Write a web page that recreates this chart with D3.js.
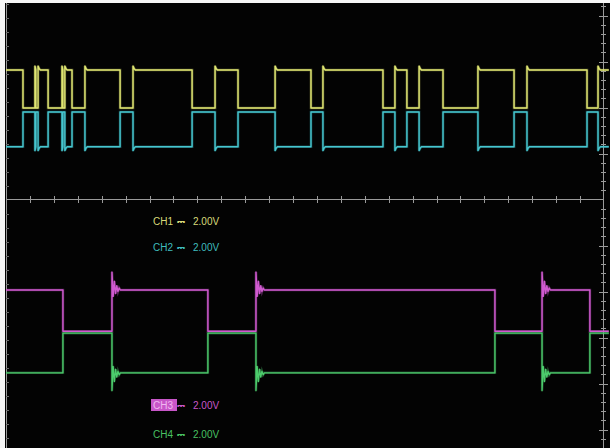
<!DOCTYPE html>
<html>
<head>
<meta charset="utf-8">
<script src="https://cdn.jsdelivr.net/npm/d3@7"></script>
<style>
  html, body { margin: 0; padding: 0; background: #f6f6f6; }
  svg { display: block; }
  text { font-family: "Liberation Sans", Arial, sans-serif; font-size: 10px; }
</style>
</head>
<body>
<svg id="scope" width="610" height="448"></svg>
<script>
// ---- Acquisition data (time in horizontal minor divisions, levels in volts) ----

// Intervals where the upper bus pair (CH1 / CH2) is driven dominant
const ch12Dominant = [
  [0, 0.71], [1.21, 1.25], [1.34, 1.76], [2.34, 2.38], [2.46, 2.76],
  [3.30, 4.77], [5.31, 7.78], [8.74, 9.70], [11.25, 12.75], [13.25, 15.76],
  [16.26, 16.76], [17.27, 18.27], [19.73, 21.24], [21.78, 24.29], [24.75, 25.2]
];
// Intervals where the lower pair (CH3 / CH4) is driven dominant
const ch34Dominant = [
  [0, 2.38], [4.43, 8.44], [10.45, 20.44], [22.41, 24.41]
];

// [recessive, dominant] levels per channel
const ch1Levels = [2.55, 3.50];
const ch2Levels = [2.45, 1.58];
const ch3Levels = [2.47, 3.50];
const ch4Levels = [2.42, 1.43];

// Overshoot / ringing after a recessive-to-dominant edge (volts away from the settled level)
const ringUpper = [0.1, 0.03, 0];
const ringLower = [0.45, -0.16, 0.22, -0.09, 0.11, -0.04, 0.05, 0];
const ringStep = 0.05;

const timeEnd = 25.2;

// Channel readouts
const channelNames = ["CH1", "CH2", "CH3", "CH4"];
const channelScales = ["2.00V", "2.00V", "2.00V", "2.00V"];

// ---- Drawing ----
const W = 610, H = 448;
const svg = d3.select("#scope");

const x = d3.scaleLinear().domain([0, 25]).range([6, 604]);
const yUpper = d3.scaleLinear().domain([0, 5]).range([210, 10]);
const yLower = d3.scaleLinear().domain([0, 5]).range([430, 230]);
const gridRow = d3.scaleLinear().domain([0, 1]).range([199.5, 190.3]);

// screen
svg.append("rect").attr("x", 5).attr("y", 3).attr("width", W - 5).attr("height", H - 3)
  .attr("fill", "#030303");

const defs = svg.append("defs");
defs.append("clipPath").attr("id", "screen")
  .append("rect").attr("x", 6).attr("y", 3).attr("width", W - 6).attr("height", H - 3);
const glow = defs.append("filter").attr("id", "glow")
  .attr("x", "-5%").attr("y", "-5%").attr("width", "110%").attr("height", "110%");
glow.append("feGaussianBlur").attr("stdDeviation", 0.45);

// graticule
const grid = svg.append("g").attr("stroke", "#9a9a9a").attr("stroke-width", 1);
grid.append("line").attr("x1", 6.5).attr("x2", 6.5).attr("y1", 3).attr("y2", H);
grid.append("line").attr("x1", 603.5).attr("x2", 603.5).attr("y1", 3).attr("y2", H);
grid.append("line").attr("x1", 6).attr("x2", 604).attr("y1", 199.5).attr("y2", 199.5);

// ticks along the centre line
grid.selectAll(".hx").data(d3.range(1, 25)).join("line")
  .attr("x1", d => Math.round(x(d)) + 0.5).attr("x2", d => Math.round(x(d)) + 0.5)
  .attr("y1", 196).attr("y2", 203);

// ticks along the right edge
grid.selectAll(".vy").data(d3.range(-27, 22).filter(d => d !== 0)).join("line")
  .attr("y1", d => Math.round(gridRow(d)) + 0.5).attr("y2", d => Math.round(gridRow(d)) + 0.5)
  .attr("x1", d => d % 5 === 0 ? 599 : 601).attr("x2", d => d % 5 === 0 ? 608 : 606);

// ticks along the left edge
grid.selectAll(".ly").data(d3.range(-14, 18).filter(d => d !== 0)).join("line")
  .attr("stroke", "#6a6a6a")
  .attr("y1", d => Math.round(199.5 + d * 14) + 0.5).attr("y2", d => Math.round(199.5 + d * 14) + 0.5)
  .attr("x1", 6).attr("x2", 9);

// build a trace from dominant intervals
function tracePoints(intervals, levels, ring) {
  const [rec, dom] = levels;
  const dir = Math.sign(dom - rec);
  const pts = [];
  if (intervals[0][0] > 0) pts.push([0, rec]);
  intervals.forEach(([a, b]) => {
    const end = Math.min(b, timeEnd);
    if (a > 0) {
      pts.push([a, rec]);
      ring.filter((r, i) => a + i * ringStep < end)
        .forEach((r, i) => pts.push([a + i * ringStep, dom + dir * r]));
    } else {
      pts.push([a, dom]);
    }
    pts.push([end, dom]);
    if (b < timeEnd) pts.push([b, rec]);
  });
  const last = intervals[intervals.length - 1][1];
  if (last < timeEnd) pts.push([timeEnd, rec]);
  return pts;
}

const traces = svg.append("g").attr("clip-path", "url(#screen)");

function drawTrace(intervals, levels, ring, yScale, color, width) {
  const line = d3.line().x(d => x(d[0])).y(d => yScale(d[1]));
  const pts = tracePoints(intervals, levels, ring);
  traces.append("path").attr("d", line(pts)).attr("fill", "none")
    .attr("stroke", color).attr("stroke-width", width + 1.2).attr("stroke-opacity", 0.35)
    .attr("filter", "url(#glow)");
  traces.append("path").attr("d", line(pts)).attr("fill", "none")
    .attr("stroke", color).attr("stroke-width", width).attr("stroke-linejoin", "round");
}

drawTrace(ch12Dominant, ch2Levels, ringUpper, yUpper, "#46c6cf", 1.4);
drawTrace(ch12Dominant, ch1Levels, ringUpper, yUpper, "#e0e672", 1.4);
drawTrace(ch34Dominant, ch3Levels, ringLower, yLower, "#d05ad0", 1.4);
drawTrace(ch34Dominant, ch4Levels, ringLower, yLower, "#4ccc6c", 1.3);

// channel readouts
const readouts = [
  { y: 225, color: "#d8da7a" },
  { y: 251, color: "#3fbcbe" },
  { y: 409, color: "#c856c8", boxed: true },
  { y: 438, color: "#48c062" }
];
const labels = svg.append("g");
readouts.forEach((r, i) => {
  const g = labels.append("g");
  if (r.boxed) {
    g.append("rect").attr("x", 151).attr("y", r.y - 10).attr("width", 26).attr("height", 12)
      .attr("fill", r.color);
  }
  g.append("text").attr("x", 153).attr("y", r.y)
    .attr("fill", r.boxed ? "#f0b8f0" : r.color).text(channelNames[i]);
  g.append("text").attr("x", 177).attr("y", r.y)
    .attr("fill", r.color).style("font-family", "DejaVu Sans").text("\u2393");
  g.append("text").attr("x", 193).attr("y", r.y)
    .attr("fill", r.color).text(channelScales[i]);
});
</script>
</body>
</html>
